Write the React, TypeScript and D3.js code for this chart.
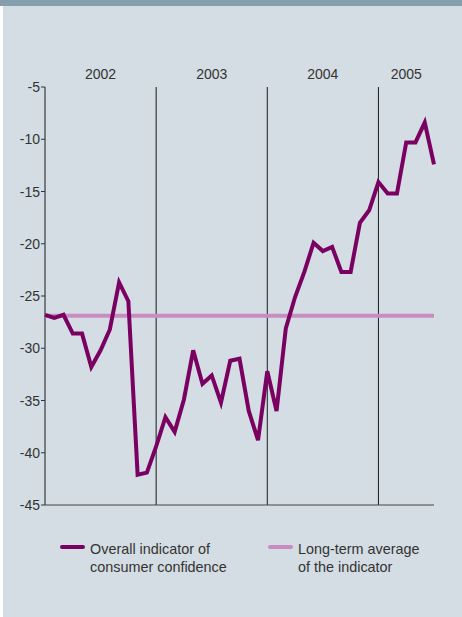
import * as d3 from 'd3';

// monthly readings, Jan 2002 .. Jul 2005
const confidence = [
  -26.8, -27.1, -26.8, -28.6, -28.6, -31.8, -30.2, -28.2, -23.7, -25.5, -42.1, -41.9,
  -39.4, -36.6, -38.0, -34.9, -30.2, -33.4, -32.6, -35.2, -31.2, -31.0, -36.0, -38.8,
  -32.2, -36.0, -28.1, -25.1, -22.7, -19.9, -20.7, -20.3, -22.7, -22.7, -18.0, -16.8,
  -14.1, -15.2, -15.2, -10.3, -10.3, -8.4, -12.4,
];
const longTermAverage = -26.9;
const years = ['2002', '2003', '2004', '2005'];
const yTicks = [-5, -10, -15, -20, -25, -30, -35, -40, -45];
const legendItems = [
  { lines: ['Overall indicator of', 'consumer confidence'], colour: '#7a0062' },
  { lines: ['Long-term average', 'of the indicator'], colour: '#c98cc0' },
];

const W = 462;
const H = 617;
const left = 45;
const right = 434;
const top = 87;
const bottom = 505;
const font = '"Liberation Sans", Arial, sans-serif';
const textColour = '#333333';

export default function App() {
  const x = d3.scaleLinear().domain([0, confidence.length - 1]).range([left, right]);
  const y = d3.scaleLinear().domain([-45, -5]).range([bottom, top]);

  const line = d3.line<number>()
    .x((_, i) => x(i))
    .y(d => y(d));

  // year boundaries every 12 months
  const yearStart = years.map((_, i) => i * 12);
  const yearCentre = years.map((_, i) =>
    (x(i * 12) + Math.min(x((i + 1) * 12), right)) / 2);

  return (
    <svg width={W} height={H} style={{ position: 'absolute', left: 0, top: 0 }}>
      <rect x={0} y={0} width={W} height={H} fill="#ffffff" />
      <rect x={3} y={0} width={W - 3} height={H} fill="#d3dde3" />
      <rect x={0} y={0} width={W} height={6} fill="#869fad" />

      {years.map((yr, i) => (
        <text key={yr} x={yearCentre[i]} y={79} textAnchor="middle"
          fontFamily={font} fontSize={14} fill={textColour}>{yr}</text>
      ))}

      {yearStart.slice(1).map(m => (
        <line key={m} x1={x(m)} x2={x(m)} y1={top} y2={bottom}
          stroke="#1a1a1a" strokeWidth={1} />
      ))}

      <line x1={left} x2={left} y1={top} y2={bottom} stroke="#1a1a1a" strokeWidth={1} />
      <line x1={left} x2={right} y1={bottom} y2={bottom} stroke="#444" strokeWidth={1.2} />

      {yTicks.map(t => (
        <g key={t}>
          <line x1={left - 4} x2={left} y1={y(t)} y2={y(t)} stroke="#333" strokeWidth={1} />
          <text x={left - 5} y={y(t) + 5} textAnchor="end"
            fontFamily={font} fontSize={14} fill={textColour}>{t}</text>
        </g>
      ))}

      <line x1={left} x2={right} y1={y(longTermAverage)} y2={y(longTermAverage)}
        stroke="#c98cc0" strokeWidth={4} />
      <path d={line(confidence) ?? ''} fill="none" stroke="#7a0062"
        strokeWidth={4} strokeLinejoin="miter" />

      {legendItems.map((item, i) => {
        const lx = i === 0 ? 62 : 270;
        return (
          <g key={i}>
            <line x1={lx} x2={lx + 21} y1={547} y2={547} stroke={item.colour}
              strokeWidth={4} strokeLinecap="round" />
            {item.lines.map((ln, j) => (
              <text key={j} x={lx + 28} y={554 + j * 18} fontFamily={font}
                fontSize={14.4} fill={textColour}>{ln}</text>
            ))}
          </g>
        );
      })}
    </svg>
  );
}
